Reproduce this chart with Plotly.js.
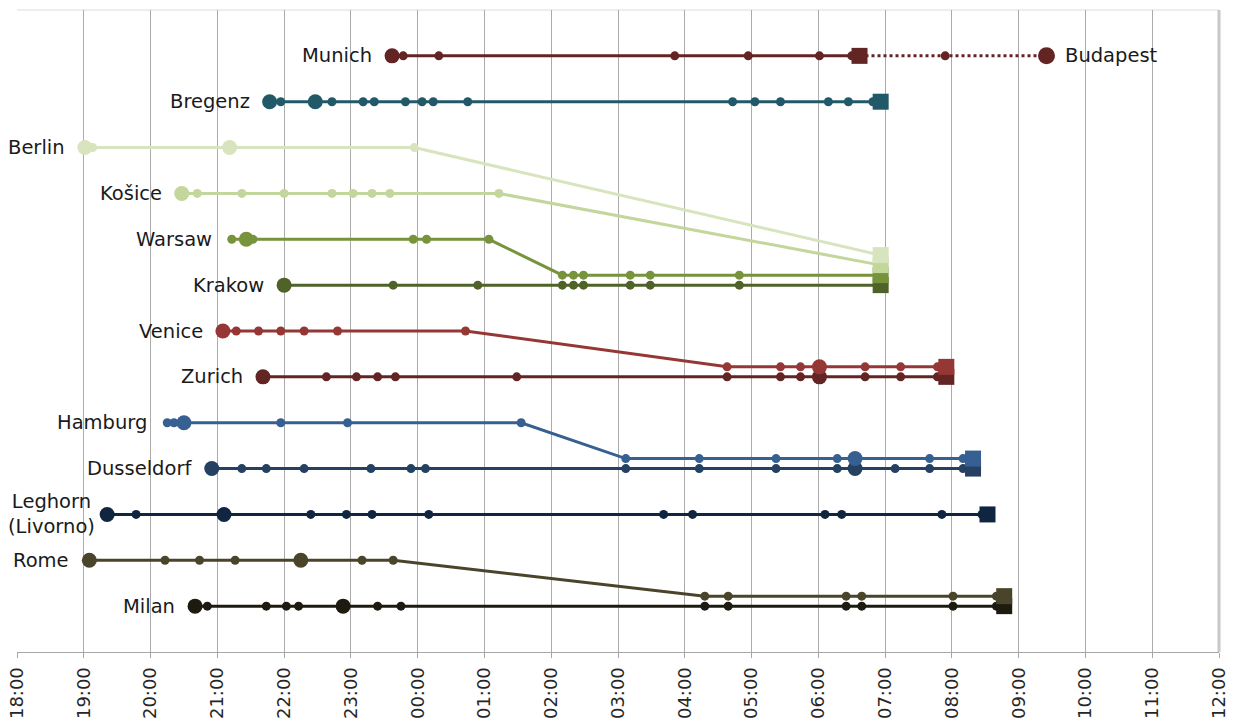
<!DOCTYPE html>
<html>
<head>
<meta charset="utf-8">
<script src="https://cdn.plot.ly/plotly-3.0.1.min.js"></script>
<style>
  html, body { margin: 0; padding: 0; background: #ffffff; }
  #chart { width: 1239px; height: 720px; }
</style>
</head>
<body>
<div id="chart"></div>
<script>
// ---------- DATA ----------
const tickLabels = ["18:00","19:00","20:00","21:00","22:00","23:00","00:00","01:00","02:00","03:00",
                    "04:00","05:00","06:00","07:00","08:00","09:00","10:00","11:00","12:00"];

const trainNames = ["Munich","Bregenz","Berlin","Košice","Warsaw","Krakow","Venice","Zurich",
                    "Hamburg","Dusseldorf","Leghorn<br>(Livorno)","Rome","Milan"];

const munichStops   = ["23:37","23:47","00:19","03:51","04:57","06:01","06:30"];
const munichBig     = [1,0,0,0,0,0,0];
const munichArrive  = "06:37";
const budapestStops = ["06:37","07:54","09:25"];
const budapestBig   = [0,0,1];

const bregenzStops  = ["21:47","21:57","22:28","22:43","23:11","23:21","23:49","00:04","00:14","00:45",
                       "04:43","05:03","05:26","06:09","06:27","06:49"];
const bregenzBig    = [1,0,1,0,0,0,0,0,0,0,0,0,0,0,0,0];
const bregenzArrive = "06:56";

const berlinStops   = ["19:01","19:08","21:11","23:57"];
const berlinBig     = [1,0,1,0];
const berlinArrive  = "06:56";

const kosiceStops   = ["20:28","20:42","21:22","22:00","22:43","23:02","23:19","23:35","01:13"];
const kosiceBig     = [1,0,0,0,0,0,0,0,0];
const kosiceArrive  = "06:56";

const warsawStops   = ["21:13","21:26","21:32","23:56","00:08","01:04","02:10","02:20","02:29","03:11","03:29","04:49"];
const warsawBig     = [0,1,0,0,0,0,0,0,0,0,0,0];
const warsawArrive  = "06:56";

const krakowStops   = ["22:00","23:38","00:54","02:10","02:20","02:29","03:11","03:29","04:49"];
const krakowBig     = [1,0,0,0,0,0,0,0,0];
const krakowArrive  = "06:56";

const veniceStops   = ["21:05","21:17","21:37","21:57","22:18","22:48","00:43","04:38","05:26","05:44","06:01","06:42","07:14","07:47"];
const veniceBig     = [1,0,0,0,0,0,0,0,0,0,1,0,0,0];
const veniceArrive  = "07:55";

const zurichStops   = ["21:41","22:38","23:05","23:24","23:40","01:29","04:38","05:26","05:44","06:01","06:42","07:14","07:47"];
const zurichBig     = [1,0,0,0,0,0,0,0,0,1,0,0,0];
const zurichArrive  = "07:55";

const hamburgStops  = ["20:15","20:21","20:30","21:57","22:57","01:33","03:07","04:13","05:22","06:17","06:33","07:40","08:10"];
const hamburgBig    = [0,0,1,0,0,0,0,0,0,0,1,0,0];
const hamburgArrive = "08:19";

const dusseldorfStops  = ["20:55","21:22","21:44","22:18","23:18","23:54","00:07","03:07","04:13","05:22","06:17","06:33","07:09","07:40","08:10"];
const dusseldorfBig    = [1,0,0,0,0,0,0,0,0,0,0,1,0,0,0];
const dusseldorfArrive = "08:19";

const leghornStops  = ["19:21","19:47","21:06","22:24","22:56","23:19","00:10","03:41","04:07","06:06","06:21","07:51","08:27"];
const leghornBig    = [1,0,1,0,0,0,0,0,0,0,0,0,0];
const leghornArrive = "08:32";

const romeStops     = ["19:05","20:13","20:44","21:16","22:15","23:10","23:38","04:18","04:39","06:25","06:39","08:01","08:40"];
const romeBig       = [1,0,0,0,1,0,0,0,0,0,0,0,0];
const romeArrive    = "08:47";

const milanStops    = ["20:40","20:51","21:44","22:02","22:13","22:53","23:24","23:45","04:18","04:39","06:25","06:39","08:01","08:40"];
const milanBig      = [1,0,0,0,0,1,0,0,0,0,0,0,0,0];
const milanArrive   = "08:47";

// ---------- STYLE / LAYOUT CONFIG ----------
const trains = [
  {stops: munichStops,     big: munichBig,     arrive: munichArrive,     color: "#632523"},
  {stops: bregenzStops,    big: bregenzBig,    arrive: bregenzArrive,    color: "#215968"},
  {stops: berlinStops,     big: berlinBig,     arrive: berlinArrive,     color: "#D7E4BD", joinAt: 4,  joinRow: 5,  shift: -0.655},
  {stops: kosiceStops,     big: kosiceBig,     arrive: kosiceArrive,     color: "#C3D69B", joinAt: 9,  joinRow: 5,  shift: -0.437},
  {stops: warsawStops,     big: warsawBig,     arrive: warsawArrive,     color: "#77933C", joinAt: 6,  joinRow: 5,  shift: -0.218},
  {stops: krakowStops,     big: krakowBig,     arrive: krakowArrive,     color: "#4F6228"},
  {stops: veniceStops,     big: veniceBig,     arrive: veniceArrive,     color: "#953735", joinAt: 7,  joinRow: 7,  shift: -0.218},
  {stops: zurichStops,     big: zurichBig,     arrive: zurichArrive,     color: "#632523"},
  {stops: hamburgStops,    big: hamburgBig,    arrive: hamburgArrive,    color: "#376092", joinAt: 6,  joinRow: 9,  shift: -0.218},
  {stops: dusseldorfStops, big: dusseldorfBig, arrive: dusseldorfArrive, color: "#254061"},
  {stops: leghornStops,    big: leghornBig,    arrive: leghornArrive,    color: "#10253F"},
  {stops: romeStops,       big: romeBig,       arrive: romeArrive,       color: "#4A452A", joinAt: 7,  joinRow: 12, shift: -0.218},
  {stops: milanStops,      big: milanBig,      arrive: milanArrive,      color: "#1D1B10"}
];

const BIG = 15, SMALL = 9, SQUARE = 16, LINEW = 3;
const LABEL_FONT = {family: "DejaVu Sans, Verdana, sans-serif", size: 19.5, color: "#1a1a1a"};

function toH(t) {
  const p = t.split(":").map(Number);
  let v = p[0] + p[1] / 60 - 18;
  if (v < 0) v += 24;
  return v;
}

const traces = [];
const annotations = [];
let munichTrace = null;

// draw lower rows first so upper trains sit on top
for (let r = trains.length - 1; r >= 0; r--) {
  const t = trains[r];
  const xs = [], ys = [], sizes = [], symbols = [];
  t.stops.forEach((s, i) => {
    xs.push(toH(s));
    const joined = t.joinAt !== undefined && i >= t.joinAt;
    ys.push(joined ? t.joinRow + t.shift : r);
    sizes.push(t.big[i] ? BIG : SMALL);
    symbols.push("circle");
  });
  xs.push(toH(t.arrive));
  ys.push(t.joinAt !== undefined ? t.joinRow + t.shift : r);
  sizes.push(SQUARE);
  symbols.push("square");
  const tr = {
    type: "scatter", mode: "lines+markers", x: xs, y: ys,
    line: {color: t.color, width: LINEW},
    marker: {color: t.color, opacity: 1, size: sizes, symbol: symbols, line: {width: 0}},
    hoverinfo: "skip", cliponaxis: false
  };
  if (r === 0) munichTrace = tr; else traces.push(tr);
  annotations.push({
    x: toH(t.stops[0]), y: r, xref: "x", yref: "y",
    text: trainNames[r], showarrow: false,
    xanchor: "right", yanchor: "middle", align: "center",
    xshift: r === 10 ? -10 : -18,
    font: LABEL_FONT
  });
}

// Munich -> Budapest continuation (dotted), then Munich on top
traces.push({
  type: "scatter", mode: "lines+markers",
  x: budapestStops.map(toH), y: budapestStops.map(() => 0),
  line: {color: trains[0].color, width: 3, dash: "dot"},
  marker: {color: trains[0].color, opacity: 1,
           size: budapestBig.map((b, i) => i === 0 ? 0 : (b ? BIG + 2 : SMALL)), line: {width: 0}},
  hoverinfo: "skip", cliponaxis: false
});
traces.push(munichTrace);

annotations.push({
  x: toH(budapestStops[budapestStops.length - 1]), y: 0, xref: "x", yref: "y",
  text: "Budapest", showarrow: false, xanchor: "left", yanchor: "middle", xshift: 17,
  font: LABEL_FONT
});

const layout = {
  width: 1239, height: 720,
  margin: {l: 17, r: 20, t: 10, b: 68},
  paper_bgcolor: "#ffffff", plot_bgcolor: "#ffffff",
  showlegend: false,
  xaxis: {
    range: [0, 18],
    tickmode: "array",
    tickvals: tickLabels.map((_, i) => i),
    ticktext: tickLabels,
    tickangle: -90,
    ticks: "outside", ticklen: 5, tickcolor: "#a6a6a6",
    ticklabelstandoff: 2,
    showline: true, linecolor: "#a6a6a6", linewidth: 1,
    showgrid: true, gridcolor: "#ababab", gridwidth: 1,
    zeroline: false,
    tickfont: {family: "DejaVu Sans, Verdana, sans-serif", size: 18, color: "#262626"},
    fixedrange: true
  },
  yaxis: {
    range: [13, -1], visible: false, showgrid: false, zeroline: false, fixedrange: true
  },
  shapes: [
    {type: "line", xref: "paper", yref: "paper", x0: 0, x1: 1, y0: 1, y1: 1,
     line: {color: "#dcdcdc", width: 1}, layer: "below"},
    {type: "line", xref: "paper", yref: "paper", x0: 1, x1: 1, y0: 0, y1: 1,
     line: {color: "#c8c8c8", width: 3}, layer: "below"}
  ],
  annotations: annotations
};

Plotly.newPlot("chart", traces, layout, {displayModeBar: false, staticPlot: true});
</script>
</body>
</html>
